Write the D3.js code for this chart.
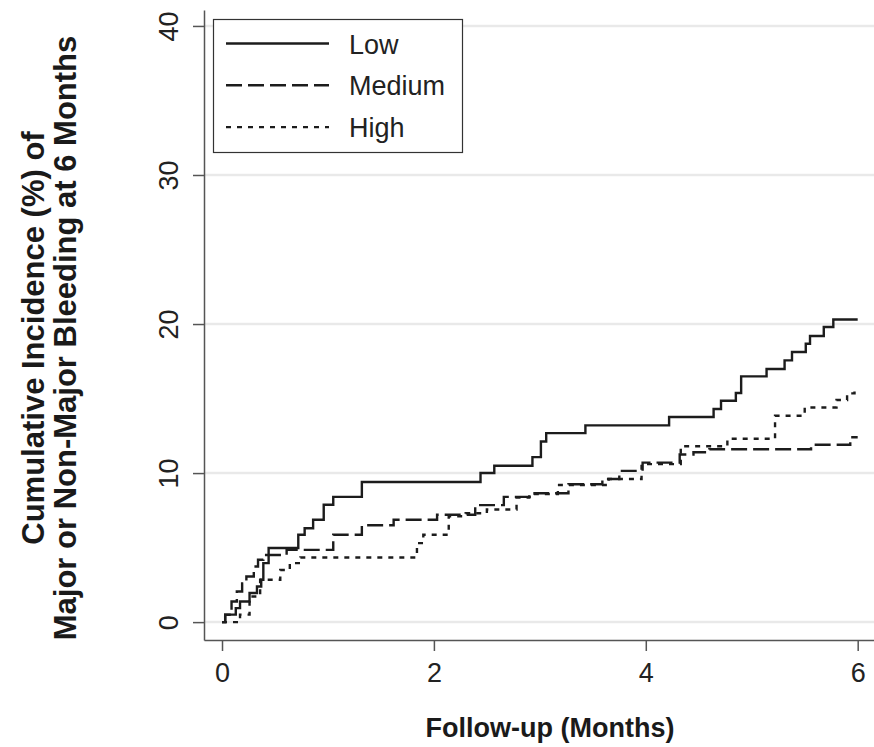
<!DOCTYPE html>
<html>
<head>
<meta charset="utf-8">
<script src="https://cdn.jsdelivr.net/npm/d3@7"></script>
<style>
  body { margin: 0; background: #fff; }
  svg { display: block; font-family: "Liberation Sans", Arial, sans-serif; }
  .tick line { stroke: #555; stroke-width: 1.5; }
  .domain { stroke: #555; stroke-width: 1.5; }
  .tick text { font-size: 27px; fill: #222; }
</style>
</head>
<body>
<svg id="chart" width="874" height="747">
  <g id="grid"></g>
  <g id="x_axis"></g>
  <g id="y_axis"></g>
  <g id="lines"></g>
  <g id="legend"></g>
  <g id="titles"></g>
</svg>
<script>
// risk groups, in legend order
const groups = ["Low", "Medium", "High"];

// step points (months, cumulative incidence %)
const low_months = [0, 0.03, 0.13, 0.17, 0.26, 0.33, 0.37, 0.39, 0.44, 0.72, 0.78, 0.86, 0.96, 1.05, 1.32, 2.44, 2.57, 2.93, 3.01, 3.06, 3.43, 4.22, 4.64, 4.71, 4.85, 4.90, 5.14, 5.31, 5.38, 5.51, 5.55, 5.68, 5.77, 6.0];
const low_pct = [0, 0.5, 0.94, 1.38, 1.95, 2.39, 2.84, 3.96, 4.97, 5.86, 6.3, 6.87, 7.87, 8.4, 9.4, 10.0, 10.49, 11.07, 12.12, 12.68, 13.2, 13.76, 14.3, 14.85, 15.37, 16.49, 16.98, 17.56, 18.12, 18.68, 19.2, 19.8, 20.3, 20.3];

const medium_months = [0, 0.03, 0.09, 0.14, 0.19, 0.23, 0.30, 0.34, 0.39, 0.61, 1.05, 1.32, 1.62, 2.03, 2.39, 2.66, 2.95, 3.27, 3.59, 3.75, 3.97, 4.32, 4.45, 4.6, 5.56, 5.93, 6.0];
const medium_pct = [0, 0.49, 1.38, 2.05, 2.6, 3.06, 3.73, 4.18, 4.5, 4.85, 5.86, 6.5, 6.87, 7.2, 7.85, 8.4, 8.65, 9.25, 9.6, 10.15, 10.7, 11.25, 11.4, 11.6, 11.9, 12.4, 12.4];

const high_months = [0, 0.17, 0.26, 0.36, 0.55, 0.64, 0.74, 1.84, 1.9, 2.14, 2.3, 2.5, 2.78, 2.9, 3.17, 3.65, 3.96, 4.33, 4.77, 5.22, 5.5, 5.8, 5.9, 5.97, 6.0];
const high_pct = [0, 0.5, 1.72, 2.84, 3.5, 3.96, 4.34, 5.3, 5.86, 7.1, 7.3, 7.56, 8.35, 8.6, 9.2, 9.6, 10.6, 11.8, 12.3, 13.85, 14.4, 14.9, 15.35, 15.6, 15.6];

const x_ticks = [0, 2, 4, 6];
const y_ticks = [0, 10, 20, 30, 40];
const x_title = "Follow-up (Months)";
const y_title = ["Cumulative Incidence (%) of", "Major or Non-Major Bleeding at 6 Months"];

// line style per group
const dash = { Low: null, Medium: "16,6", High: "5,6" };

function make_series() {
  let cols = [[low_months, low_pct], [medium_months, medium_pct], [high_months, high_pct]];
  return groups.map((g, i) => ({
    group: g,
    values: cols[i][0].map((m, t) => ({ month: m, pct: cols[i][1][t] }))
  }));
}

// plot region runs a little past 0..6 and 0..40, like the original
function make_scales() {
  return {
    x: d3.scaleLinear().domain([-0.17, 6.154]).range([204, 874]),
    y: d3.scaleLinear().domain([-1.2, 41.07]).range([640, 10])
  };
}

function draw_grid(scales) {
  d3.select("#grid")
    .selectAll("line")
    .data(y_ticks).enter()
    .append("line")
    .attr("x1", scales.x.range()[0])
    .attr("x2", scales.x.range()[1])
    .attr("y1", d => scales.y(d))
    .attr("y2", d => scales.y(d))
    .attr("stroke", "#e9e9e9")
    .attr("stroke-width", 2.5);
}

function draw_axes(scales) {
  let x_axis = d3.axisBottom(scales.x)
    .tickValues(x_ticks)
    .tickFormat(d3.format("d"))
    .tickSize(11)
    .tickSizeOuter(0)
    .tickPadding(12);
  d3.select("#x_axis")
    .attr("transform", `translate(0, ${scales.y.range()[0]})`)
    .call(x_axis);

  let y_axis = d3.axisLeft(scales.y)
    .tickValues(y_ticks)
    .tickFormat(d3.format("d"))
    .tickSize(11)
    .tickSizeOuter(0);
  d3.select("#y_axis")
    .attr("transform", `translate(${scales.x.range()[0]}, 0)`)
    .call(y_axis);

  // stata style: y labels turned on their side
  d3.select("#y_axis").selectAll(".tick text")
    .attr("x", 0)
    .attr("dy", 0)
    .attr("text-anchor", "middle")
    .attr("transform", "translate(-26, 0) rotate(-90)");
}

function draw_lines(series, scales) {
  let path_generator = d3.line()
    .curve(d3.curveStepAfter)
    .x(d => scales.x(d.month))
    .y(d => scales.y(d.pct));

  d3.select("#lines")
    .selectAll("path")
    .data(series).enter()
    .append("path")
    .attr("d", d => path_generator(d.values))
    .attr("fill", "none")
    .attr("stroke", "#1c1c1c")
    .attr("stroke-width", 2.4)
    .attr("stroke-dasharray", d => dash[d.group]);
}

function draw_legend() {
  let lg = d3.select("#legend");
  lg.append("rect")
    .attr("x", 213.5).attr("y", 19.5)
    .attr("width", 249).attr("height", 133)
    .attr("fill", "#fff")
    .attr("stroke", "#333")
    .attr("stroke-width", 1.2);

  let rows = lg.selectAll("g.row")
    .data(groups).enter()
    .append("g")
    .attr("class", "row")
    .attr("transform", (d, i) => `translate(0, ${43.5 + i * 41.8})`);

  rows.append("line")
    .attr("x1", 226).attr("x2", 329)
    .attr("stroke", "#1c1c1c")
    .attr("stroke-width", 2.4)
    .attr("stroke-dasharray", d => dash[d]);

  rows.append("text")
    .attr("x", 349)
    .attr("y", 10)
    .attr("font-size", 27)
    .attr("fill", "#222")
    .text(d => d);
}

function draw_titles() {
  let t = d3.select("#titles");
  t.append("text")
    .attr("x", 550)
    .attr("y", 737)
    .attr("text-anchor", "middle")
    .attr("font-size", 27)
    .attr("font-weight", "bold")
    .attr("fill", "#1a1a1a")
    .text(x_title);

  t.selectAll("text.ytitle")
    .data(y_title).enter()
    .append("text")
    .attr("class", "ytitle")
    .attr("text-anchor", "middle")
    .attr("font-size", 31)
    .attr("font-weight", "bold")
    .attr("fill", "#1a1a1a")
    .attr("transform", (d, i) => `translate(${44 + i * 32}, 338) rotate(-90)`)
    .text(d => d);
}

function visualize() {
  let scales = make_scales();
  draw_grid(scales);
  draw_axes(scales);
  draw_lines(make_series(), scales);
  draw_legend();
  draw_titles();
}

visualize();
</script>
</body>
</html>
